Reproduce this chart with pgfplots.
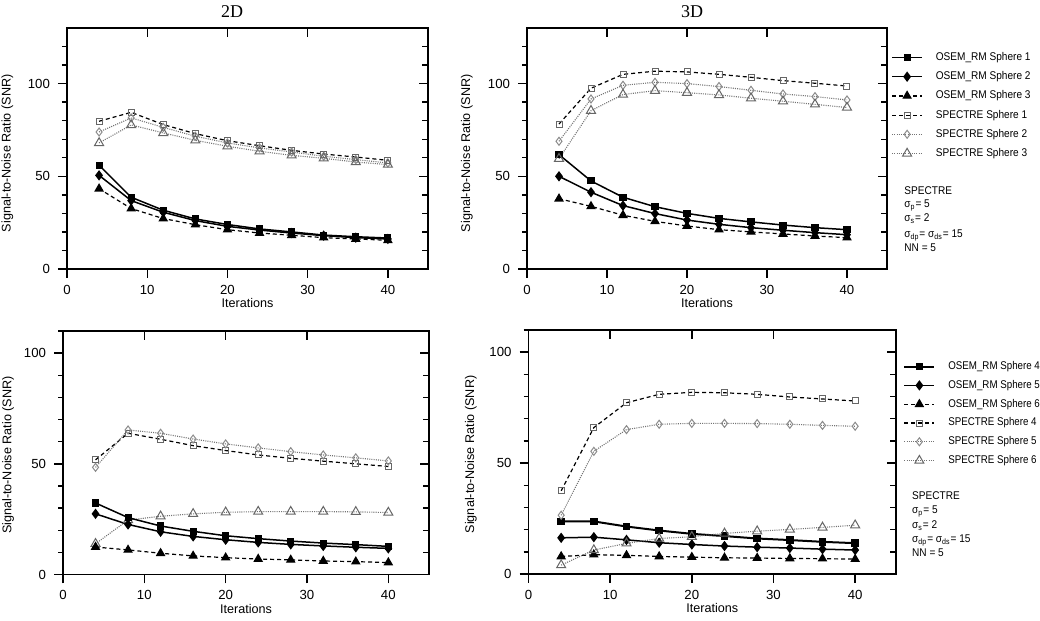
\documentclass[border=0pt]{standalone}
\usepackage{fontspec}
\setmainfont{Liberation Sans}
\newfontfamily\serifttl{Liberation Serif}
\newfontfamily\legcond[FakeStretch=0.9]{Liberation Sans}
\newfontfamily\legcondb[FakeStretch=0.87]{Liberation Sans}
\usepackage{pgfplots}
\usepackage{pgfplotstable}
\pgfplotsset{compat=1.18}

\newcommand\labfont{\fontsize{6.3}{7.5}\selectfont}
\newcommand\legfont{\legcond\fontsize{5.6}{7}\selectfont}
\newcommand\legfontb{\legcondb\fontsize{5.6}{7}\selectfont}
\newcommand\notefont{\legcond\fontsize{5.6}{6.7}\selectfont}
\newcommand\notefontb{\legcond\fontsize{5.6}{7}\selectfont}

% x  OSEM1 OSEM2 OSEM3 SPEC1 SPEC2 SPEC3
\pgfplotstableread{
x o1 o2 o3 s1 s2 s3
4 56.0 50.5 43.3 79.7 73.9 68.0
8 38.7 36.9 32.6 84.5 81.5 77.7
12 31.7 30.6 27.2 77.9 76.4 73.4
16 27.0 26.1 23.9 73.0 71.6 69.4
20 24.0 23.0 21.2 69.2 68.0 66.2
24 21.6 21.0 19.4 66.5 65.3 63.5
28 20.0 19.4 18.2 64.0 63.1 61.3
32 18.3 18.0 16.9 62.0 60.8 59.7
36 17.4 16.9 16.2 60.4 59.0 57.7
40 16.7 16.2 15.5 58.6 57.2 56.3
}\tabTL
\pgfplotstableread{
x o1 o2 o3 s1 s2 s3
4 61.7 50.0 37.9 78.2 68.9 59.5
8 47.5 41.4 33.8 97.5 91.7 85.4
12 38.7 34.2 29.0 105.0 99.1 94.1
16 33.6 29.9 25.7 106.7 100.7 96.2
20 30.0 26.4 23.2 106.3 100.0 95.1
24 27.3 24.1 21.2 105.0 98.4 93.9
28 25.4 22.3 20.0 103.4 96.4 92.1
32 23.7 20.9 18.9 101.6 94.4 90.5
36 22.3 19.6 17.8 100.2 93.0 88.8
40 21.2 18.5 16.9 98.7 91.2 87.1
}\tabTR
\pgfplotstableread{
x o1 o2 o3 s1 s2 s3
4 32.3 27.4 12.4 51.8 48.4 13.9
8 25.7 22.6 11.1 63.8 65.3 24.6
12 21.9 19.3 9.6 61.1 63.8 26.3
16 19.5 17.2 8.4 58.2 61.2 27.4
20 17.5 15.7 7.6 56.0 59.0 28.1
24 16.2 14.5 7.0 54.0 57.2 28.4
28 15.1 13.6 6.6 52.5 55.5 28.4
32 14.2 12.9 6.1 51.2 54.0 28.4
36 13.5 12.3 5.8 50.0 52.7 28.3
40 12.7 11.8 5.4 48.8 51.3 28.0
}\tabBL
\pgfplotstableread{
x o1 o2 o3 s1 s2 s3
4 23.7 16.3 7.9 37.5 26.5 4.0
8 23.7 16.6 8.7 66.0 55.3 10.8
12 21.4 15.4 8.4 77.2 65.1 13.8
16 19.6 14.1 7.9 81.0 67.5 16.0
20 18.1 13.3 7.6 81.9 67.9 16.8
24 17.1 12.6 7.3 81.7 67.9 18.3
28 16.0 12.1 7.2 81.0 67.8 19.3
32 15.3 11.7 7.0 79.8 67.5 20.1
36 14.5 11.2 6.9 78.9 67.0 21.0
40 13.9 10.8 6.7 78.0 66.6 22.0
}\tabBR

\definecolor{gA}{gray}{0.40}
\definecolor{gB}{gray}{0.55}
\definecolor{gL}{gray}{0.45}

\pgfplotsset{
  panel/.style={
    scale only axis,
    xmin=0, xmax=45, ymin=0,
    xtick={0,10,20,30,40}, ytick={0,50,100},
    minor ytick={10,20,30,40,60,70,80,90,110,120},
    tick pos=left, tick align=outside,
    major tick length=4.5pt, minor tick length=2.5pt,
    axis line style={line width=0.7pt},
    every tick/.style={black, line width=0.7pt},
    tick label style={font=\fontsize{6.6}{8}\selectfont},
    yticklabel style={xshift=-0.5pt},
    /pgf/number format/assume math mode=true,
    label style={font=\labfont},
    xlabel={Iterations},
    ylabel={Signal-to-Noise Ratio (SNR)},
    clip=false,
  },
  mirror/.style={
    scale only axis,
    xmin=0, xmax=45, ymin=0,
    xtick={10,20,30}, ytick={50,100},
    minor ytick={10,20,30,40,60,70,80,90,110,120},
    xtick pos=right, ytick pos=right, tick align=inside,
    xticklabels={}, yticklabels={},
    major tick length=4.5pt, minor tick length=3pt,
    axis line style={line width=0.7pt},
    every tick/.style={black, line width=0.7pt},
  },
  sO1/.style={black, line width=0.75pt, mark=square*, mark size=1.4pt, mark options={solid, fill=black}},
  sO2/.style={black, line width=0.75pt, mark=diamond*, mark size=2.0pt, mark options={solid, fill=black}},
  sO3/.style={black, line width=0.6pt, dash pattern=on 2pt off 1.5pt, mark=triangle*, mark size=2.2pt, mark options={solid, fill=black}},
  sS1/.style={black, line width=0.6pt, dash pattern=on 2pt off 1.5pt, mark=square, mark size=1.5pt, mark options={solid, draw=gA, fill=white, line width=0.5pt}},
  sS2/.style={gL, line width=0.55pt, dash pattern=on 0.5pt off 0.6pt, mark=diamond, mark size=2.0pt, mark options={solid, draw=gB, fill=white, line width=0.5pt}},
  sS3/.style={gL, line width=0.55pt, dash pattern=on 0.5pt off 0.6pt, mark=triangle, mark size=2.6pt, mark options={solid, draw=gA, fill=white, line width=0.5pt}},
  myleg/.style={
    legend style={draw=none, fill=none, inner sep=0pt,
      nodes={inner sep=1pt, text height=3.8pt, text depth=0.9pt, anchor=west},
      /tikz/every odd column/.append style={column sep=5.5pt}},
    legend cell align=left,
    legend image code/.code={%
      \draw[mark repeat=2,mark phase=2,##1] plot coordinates {(0pt,0pt) (7.5pt,0pt) (15pt,0pt)};},
  },
}

\begin{document}
\begin{tikzpicture}[x=1pt,y=1pt]
\useasboundingbox (0,0) rectangle (520,310.5);

% ---------- top left (2D) ----------
\begin{axis}[panel, at={(33.5pt,176pt)}, anchor=south west,
  width=180.5pt, height=120.5pt, ymax=130,
  xlabel style={at={(axis description cs:0.5,-0.141)}, anchor=center},
  ylabel style={at={(axis description cs:-0.165,0.48)}, anchor=center}]
\addplot[sS1] table[x=x,y=s1] {\tabTL};
\addplot[sS2] table[x=x,y=s2] {\tabTL};
\addplot[sS3] table[x=x,y=s3] {\tabTL};
\addplot[sO3] table[x=x,y=o3] {\tabTL};
\addplot[sO2] table[x=x,y=o2] {\tabTL};
\addplot[sO1] table[x=x,y=o1] {\tabTL};
\end{axis}
\begin{axis}[mirror, at={(33.5pt,176pt)}, anchor=south west,
  width=180.5pt, height=120.5pt, ymax=130]
\end{axis}

% ---------- top right (3D) ----------
\begin{axis}[panel, myleg, at={(263.5pt,176pt)}, anchor=south west,
  width=180pt, height=120.5pt, ymax=130,
  xlabel style={at={(axis description cs:0.5,-0.141)}, anchor=center},
  ylabel style={at={(axis description cs:-0.167,0.48)}, anchor=center},
  legend style={at={(axis description cs:1.011,0.907)}, anchor=north west,
    font=\legfont, row sep=2.9pt}]
\addplot[sO1] table[x=x,y=o1] {\tabTR};
\addlegendentry{OSEM\_RM Sphere 1}
\addplot[sO2] table[x=x,y=o2] {\tabTR};
\addlegendentry{OSEM\_RM Sphere 2}
\addplot[sO3] table[x=x,y=o3] {\tabTR};
\addlegendentry{OSEM\_RM Sphere 3}
\addplot[sS1] table[x=x,y=s1] {\tabTR};
\addlegendentry{SPECTRE Sphere 1}
\addplot[sS2] table[x=x,y=s2] {\tabTR};
\addlegendentry{SPECTRE Sphere 2}
\addplot[sS3] table[x=x,y=s3] {\tabTR};
\addlegendentry{SPECTRE Sphere 3}
\end{axis}
\begin{axis}[mirror, at={(263.5pt,176pt)}, anchor=south west,
  width=180pt, height=120.5pt, ymax=130]
\end{axis}

% ---------- bottom left ----------
\begin{axis}[panel, at={(31.5pt,23.25pt)}, anchor=south west,
  width=183pt, height=121.75pt, ymax=110,
  xlabel style={at={(axis description cs:0.5,-0.14)}, anchor=center},
  ylabel style={at={(axis description cs:-0.15,0.49)}, anchor=center}]
\addplot[sS1] table[x=x,y=s1] {\tabBL};
\addplot[sS2] table[x=x,y=s2] {\tabBL};
\addplot[sS3] table[x=x,y=s3] {\tabBL};
\addplot[sO3] table[x=x,y=o3] {\tabBL};
\addplot[sO2] table[x=x,y=o2] {\tabBL};
\addplot[sO1] table[x=x,y=o1] {\tabBL};
\end{axis}
\begin{axis}[mirror, at={(31.5pt,23.25pt)}, anchor=south west,
  width=183pt, height=121.75pt, ymax=110]
\end{axis}

% ---------- bottom right ----------
\begin{axis}[panel, myleg, at={(264.25pt,23.5pt)}, anchor=south west,
  width=183.75pt, height=122pt, ymax=110,
  xlabel style={at={(axis description cs:0.5,-0.14)}, anchor=center},
  ylabel style={at={(axis description cs:-0.157,0.49)}, anchor=center},
  legend style={at={(axis description cs:1.019,0.879)}, anchor=north west,
    font=\legfontb, row sep=2.7pt}]
\addplot[sO1, line width=1pt] table[x=x,y=o1] {\tabBR};
\addlegendentry{OSEM\_RM Sphere 4}
\addplot[sO2] table[x=x,y=o2] {\tabBR};
\addlegendentry{OSEM\_RM Sphere 5}
\addplot[sO3] table[x=x,y=o3] {\tabBR};
\addlegendentry{OSEM\_RM Sphere 6}
\addplot[sS1] table[x=x,y=s1] {\tabBR};
\addlegendentry{SPECTRE Sphere 4}
\addplot[sS2] table[x=x,y=s2] {\tabBR};
\addlegendentry{SPECTRE Sphere 5}
\addplot[sS3] table[x=x,y=s3] {\tabBR};
\addlegendentry{SPECTRE Sphere 6}
\end{axis}
\begin{axis}[mirror, at={(264.25pt,23.5pt)}, anchor=south west,
  width=183.75pt, height=122pt, ymax=110]
\end{axis}

% ---------- titles and parameter notes ----------
\node[font=\serifttl\fontsize{9}{10}\selectfont] at (116pt,304.8pt) {2D};
\node[font=\serifttl\fontsize{9}{10}\selectfont] at (346pt,304.8pt) {3D};

\node[anchor=north west, inner sep=0pt, align=left, font=\notefont]
  at (452pt,217.5pt) {SPECTRE\\ σ\textsubscript{p}= 5\\ σ\textsubscript{s}= 2\\[1.3pt] σ\textsubscript{dp}= σ\textsubscript{ds}= 15\\[0.6pt] NN = 5};
\node[anchor=north west, inner sep=0pt, align=left, font=\notefontb]
  at (455.9pt,65pt) {SPECTRE\\ σ\textsubscript{p}= 5\\[0.4pt] σ\textsubscript{s}= 2\\ σ\textsubscript{dp}= σ\textsubscript{ds}= 15\\ NN = 5};
\end{tikzpicture}
\end{document}
